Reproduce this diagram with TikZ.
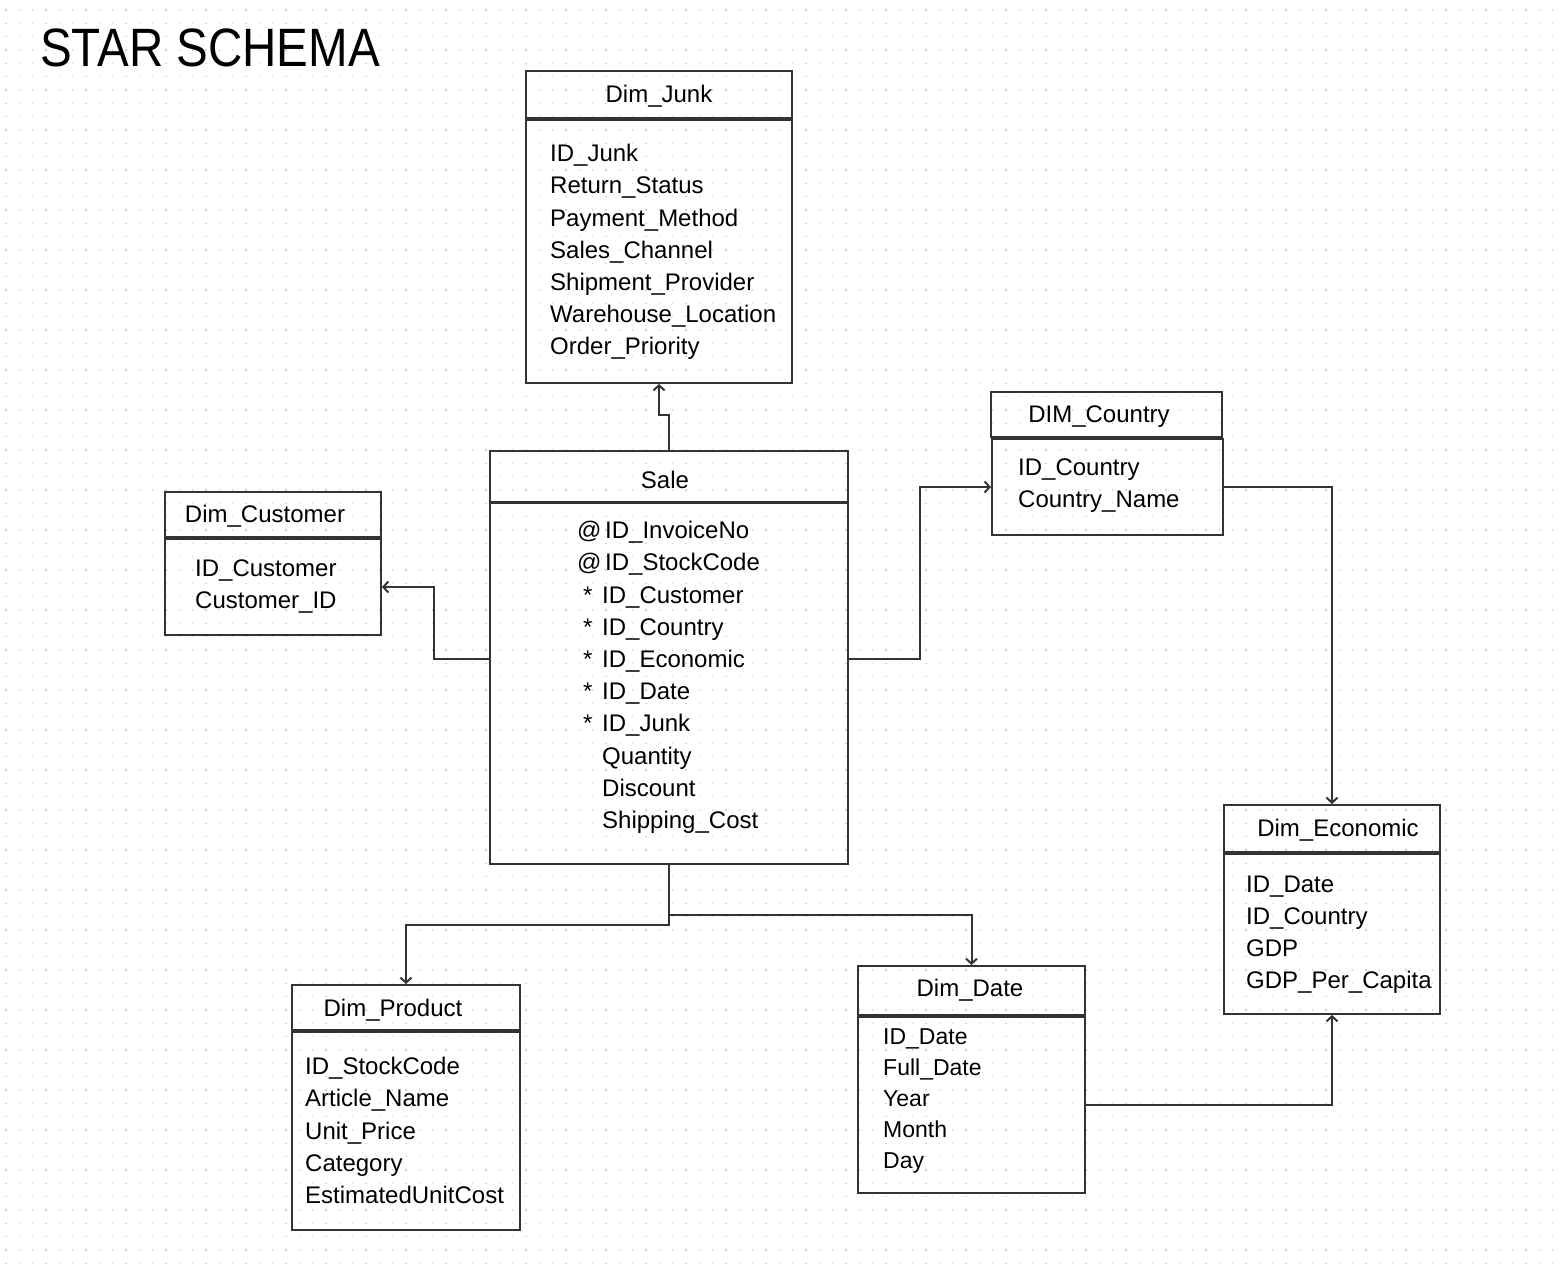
\documentclass[tikz,border=0pt]{standalone}
\usepackage{fontspec}
\setmainfont{Liberation Sans}
\newfontfamily\titlefont[FakeStretch=0.88]{Liberation Sans}
\usetikzlibrary{arrows.meta}
\definecolor{linec}{HTML}{333333}
\definecolor{dotc}{HTML}{D2D2D2}
\tikzset{
  box/.style={draw=linec, line width=2pt, inner sep=0pt, anchor=north west, fill=none},
  salebox/.style={box, line width=2.4pt},
  ttl/.style={inner sep=0pt, anchor=base, font=\fontsize{24}{32}\selectfont},
  fld/.style={inner sep=0pt, anchor=base west, font=\fontsize{24}{32}\selectfont},
  fldsm/.style={inner sep=0pt, anchor=base west, font=\fontsize{23}{31}\selectfont},
  conn/.style={draw=linec, line width=2pt, -{Straight Barb[length=5pt,width=11pt,line width=2pt]}},
}
\begin{document}
\begin{tikzpicture}[x=1pt,y=-1pt]
\useasboundingbox (0,0) rectangle (1561,1272);
\fill[white] (0,0) rectangle (1561,1272);
% dot grid
\foreach \r in {0,...,94}
  \draw[dotc, line width=1.6pt, dash pattern=on 1.6pt off 11.733pt] (5.2,{10+13.333*\r}) -- (1561,{10+13.333*\r});

\node[inner sep=0pt, anchor=base west, font=\titlefont\fontsize{54}{60}\selectfont] (title) at (40,66) {STAR SCHEMA};

% Dim_Junk
\node[box, minimum width=266pt, minimum height=47pt] (junkH) at (525,70) {};
\node[box, minimum width=266pt, minimum height=263pt] (junkB) at (525,119) {};
\node[ttl] (junkT) at (659,102.6) {Dim\_Junk};
\foreach \t [count=\i from 0] in {ID\_Junk,Return\_Status,Payment\_Method,Sales\_Channel,Shipment\_Provider,Warehouse\_Location,Order\_Priority}
  \node[fld] (junk-\i) at (550,{161.6+32.2*\i}) {\t};

% Sale
\node[salebox, minimum width=358pt, minimum height=51pt] (saleH) at (489,450) {};
\node[salebox, minimum width=358pt, minimum height=361pt] (saleB) at (489,502) {};
\node[ttl] (saleT) at (665,488.6) {Sale};
\node[fld] (saleP0) at (577,538.6) {@};
\node[fld] (saleP1) at (577,570.8) {@};
\foreach \i in {2,...,6}
  \node[fld] (saleP\i) at (583,{538.6+32.2*\i}) {*};
\node[fld] (sale-0) at (605,538.6) {ID\_InvoiceNo};
\node[fld] (sale-1) at (605,570.8) {ID\_StockCode};
\foreach \t [count=\i from 2] in {ID\_Customer,ID\_Country,ID\_Economic,ID\_Date,ID\_Junk,Quantity,Discount,Shipping\_Cost}
  \node[fld] (sale-\i) at (602,{538.6+32.2*\i}) {\t};

% Dim_Customer
\node[box, minimum width=216pt, minimum height=45pt] (custH) at (164,491) {};
\node[box, minimum width=216pt, minimum height=96pt] (custB) at (164,538) {};
\node[ttl] (custT) at (265,522.6) {Dim\_Customer};
\node[fld] (cust-0) at (195,576.6) {ID\_Customer};
\node[fld] (cust-1) at (195,608.6) {Customer\_ID};

% DIM_Country
\node[box, minimum width=231pt, minimum height=45pt] (countryH) at (990,391) {};
\node[box, minimum width=231pt, minimum height=96pt] (countryB) at (991,438) {};
\node[ttl] (countryT) at (1099,422.6) {DIM\_Country};
\node[fld] (country-0) at (1018,475.6) {ID\_Country};
\node[fld] (country-1) at (1018,507.6) {Country\_Name};

% Dim_Economic
\node[box, minimum width=216pt, minimum height=47pt] (econH) at (1223,804) {};
\node[box, minimum width=216pt, minimum height=160pt] (econB) at (1223,853) {};
\node[ttl] (econT) at (1338,836.6) {Dim\_Economic};
\foreach \t [count=\i from 0] in {ID\_Date,ID\_Country,GDP,GDP\_Per\_Capita}
  \node[fld] (econ-\i) at (1246,{892.6+32*\i}) {\t};

% Dim_Date
\node[box, minimum width=227pt, minimum height=49pt] (dateH) at (857,965) {};
\node[box, minimum width=227pt, minimum height=176pt] (dateB) at (857,1016) {};
\node[ttl] (dateT) at (970,996.6) {Dim\_Date};
\foreach \t [count=\i from 0] in {ID\_Date,Full\_Date,Year,Month,Day}
  \node[fldsm] (date-\i) at (883,{1044.4+31*\i}) {\t};

% Dim_Product
\node[box, minimum width=228pt, minimum height=45pt] (prodH) at (291,984) {};
\node[box, minimum width=228pt, minimum height=198pt] (prodB) at (291,1031) {};
\node[ttl] (prodT) at (393,1016.6) {Dim\_Product};
\foreach \t [count=\i from 0] in {ID\_StockCode,Article\_Name,Unit\_Price,Category,EstimatedUnitCost}
  \node[fld] (prod-\i) at (305,{1074.6+32.25*\i}) {\t};

% connectors
\draw[conn] (saleH.north) -- ++(0,-35) -| (junkB.south);
\draw[conn] ([yshift=25pt]saleB.west) -- ++(-55,0) |- (custB.east);
\draw[conn] ([yshift=25pt]saleB.east) -- ++(71,0) |- (countryB.west);
\draw[conn] (countryB.east) -| (econH.north);
\draw[conn] (saleB.south) -- ++(0,60) -| (prodH.north);
\draw[conn] (saleB.south) -- ++(0,50) -| (dateH.north);
\draw[conn] (dateB.east) -| (econB.south);
\end{tikzpicture}
\end{document}
